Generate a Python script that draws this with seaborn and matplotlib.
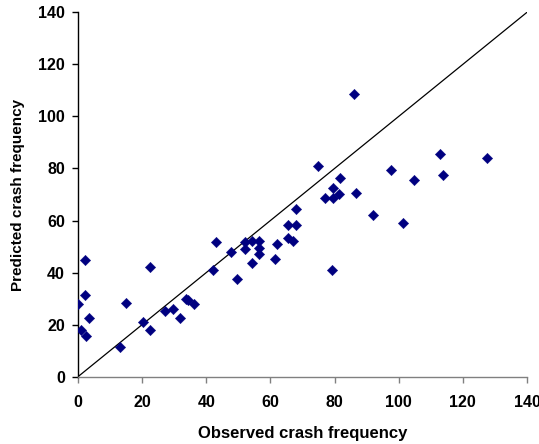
import matplotlib
matplotlib.use("Agg")
import matplotlib.pyplot as plt
import seaborn as sns
import pandas as pd

observed = [0, 0.8, 2.2, 2.2, 2.4, 3.3, 13.2, 15.0, 20.2, 22.5, 22.5, 27.2, 29.5, 31.7,
            33.8, 34.3, 36.2, 42.2, 42.9, 47.6, 49.7, 52.0, 52.1, 54.3, 54.2, 56.5, 56.5,
            56.5, 61.3, 62.0, 65.6, 65.6, 67.1, 68.0, 68.0, 74.9, 77.0, 79.2, 79.4, 79.4,
            81.5, 81.7, 86.2, 86.7, 92.1, 97.6, 101.3, 104.8, 112.8, 113.7, 127.4]
predicted = [28.0, 17.9, 31.5, 44.8, 15.8, 22.4, 11.5, 28.4, 20.9, 42.3, 18.1, 25.2, 25.9, 22.5,
             29.8, 29.4, 27.8, 40.8, 51.9, 47.8, 37.5, 51.9, 49.1, 52.0, 43.6, 52.0, 49.3,
             47.0, 45.2, 50.9, 58.3, 53.2, 52.1, 58.3, 64.4, 80.8, 68.7, 41.1, 72.6, 68.7,
             70.3, 76.2, 108.6, 70.6, 62.0, 79.5, 59.2, 75.6, 85.7, 77.5, 84.1]
line_x = [0, 140]
line_y = [0, 140]
ticks = [0, 20, 40, 60, 80, 100, 120, 140]

df = pd.DataFrame({"obs": observed, "pred": predicted})
ref = pd.DataFrame({"x": line_x, "y": line_y})

sns.set_style("ticks")
plt.rcParams["font.family"] = ["Liberation Sans", "DejaVu Sans"]
plt.rcParams["text.color"] = "black"
plt.rcParams["axes.labelcolor"] = "black"
plt.rcParams["xtick.color"] = "black"
plt.rcParams["ytick.color"] = "black"

fig = plt.figure(figsize=(5.39, 4.44), dpi=100)
ax = fig.add_axes([0.1447, 0.1516, 0.8330, 0.8207])

sns.lineplot(data=ref, x="x", y="y", color="black", linewidth=0.9, ax=ax)
sns.scatterplot(data=df, x="obs", y="pred", marker="D", color="#000080",
                s=28, edgecolor="#000080", linewidth=0.3, ax=ax, zorder=3)

ax.set_xlim(0, 140)
ax.set_ylim(0, 140)
ax.set_xticks(ticks)
ax.set_yticks(ticks)
ax.set_xticklabels([str(t) for t in ticks], fontsize=11.5, fontweight="bold")
ax.set_yticklabels([str(t) for t in ticks], fontsize=11.5, fontweight="bold")
ax.tick_params(axis="y", direction="out", length=4.5, width=1, color="black", labelcolor="black", pad=5)
ax.tick_params(axis="x", direction="out", length=4.5, width=1, color="#808080", labelcolor="black", pad=9)
ax.set_xlabel("Observed crash frequency", fontsize=12, fontweight="bold", labelpad=11, color="black")
ax.set_ylabel("Predicted crash frequency", fontsize=11, fontweight="bold", labelpad=9, color="black")
for s in ["top", "right"]:
    ax.spines[s].set_visible(False)
ax.spines["left"].set_color("black")
ax.spines["bottom"].set_color("#808080")
for s in ["left", "bottom"]:
    ax.spines[s].set_linewidth(1)
    ax.spines[s].set_clip_on(False)

fig.savefig("out.png", dpi=100)
